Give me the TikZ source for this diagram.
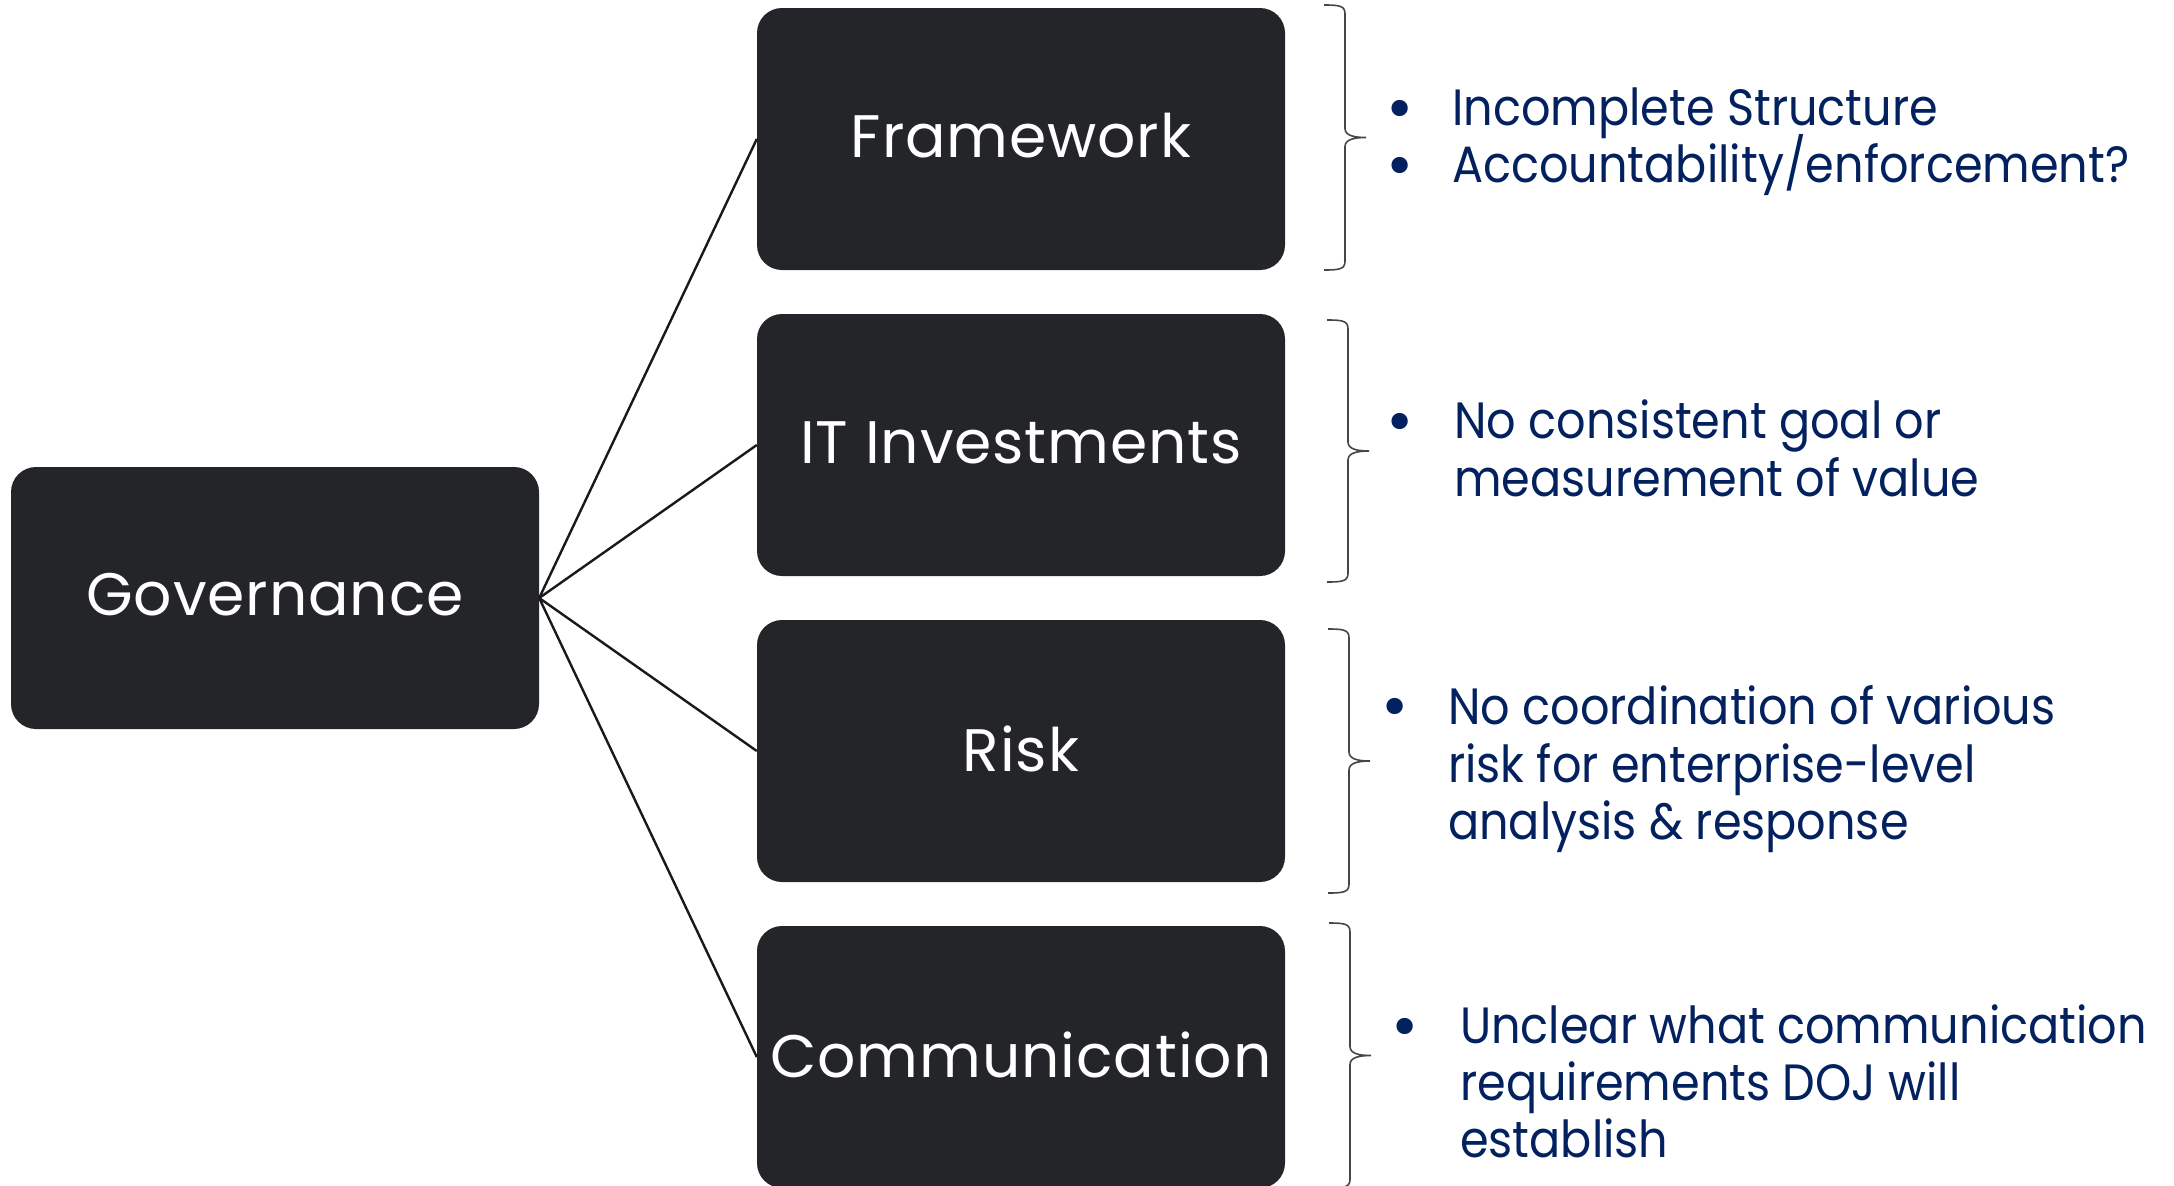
\documentclass[tikz,border=0pt]{standalone}
\usepackage{fontspec}
\setmainfont{Poppins}
\newfontfamily\itemfont{Poppins}[FakeStretch=0.905]
\newfontfamily\labelfont{Poppins}[LetterSpace=1.5]
\definecolor{boxfill}{RGB}{36,37,41}
\definecolor{navy}{RGB}{2,33,94}
\definecolor{bracecol}{RGB}{70,70,70}
\begin{document}
\begin{tikzpicture}[x=1pt,y=-1pt,
  box/.style={fill=boxfill, rounded corners=25pt, text=white, minimum width=528pt,
    minimum height=262pt, inner sep=0pt},
  boxlabel/.style={text=white, inner sep=0pt, font=\labelfont\fontsize{60}{60}\selectfont},
  conn/.style={draw=black!90, line width=2.4pt},
  bracestyle/.style={draw=bracecol, line width=1.6pt},
  item/.style={text=navy, inner sep=0pt, anchor=base west, font=\itemfont\fontsize{51}{57}\selectfont},
  bul/.style={text=navy, inner sep=0pt, anchor=center, font=\fontsize{66}{66}\selectfont}]
\useasboundingbox (0,0) rectangle (2174,1186);
\clip (0,0) rectangle (2174,1186);

% boxes
\node[box] (gov) at (275,598) {};
\node[boxlabel] (govt) at ([yshift=3pt]gov.center) {Governance};
\node[box] (fw) at (1021,139) {};
\node[boxlabel] (fwt) at ([yshift=3pt]fw.center) {Framework};
\node[box] (it) at (1021,445) {};
\node[boxlabel] (itt) at ([yshift=2pt]it.center) {IT Investments};
\node[box] (risk) at (1021,751) {};
\node[boxlabel] (riskt) at ([yshift=2pt]risk.center) {Risk};
\node[box] (comm) at (1021,1057) {};
\node[boxlabel] (commt) at ([yshift=2pt]comm.center) {Communication};

% connectors
\draw[conn] (gov.east) -- (fw.west);
\draw[conn] (gov.east) -- (it.west);
\draw[conn] (gov.east) -- (risk.west);
\draw[conn] (gov.east) -- (comm.west);

% braces
\foreach \x/\t/\m/\b in {1324/5/137.5/270, 1327/320/451/582, 1328/629/761/893, 1329/923/1055.5/1188}{
  \draw[bracestyle] (\x,\t) .. controls ({\x+16},\t) and ({\x+21},{\t+1}) .. ({\x+21},{\t+9})
    -- ({\x+21},{\m-9}) .. controls ({\x+21},{\m-2}) and ({\x+30},\m) .. ({\x+42},\m)
    .. controls ({\x+30},\m) and ({\x+21},{\m+2}) .. ({\x+21},{\m+9})
    -- ({\x+21},{\b-9}) .. controls ({\x+21},{\b-1}) and ({\x+16},\b) .. (\x,\b);
}

% Framework items
\node[bul] (b1) at (1400,115) {•};
\node[item] (f1) at (1452,125) {Incomplete Structure};
\node[bul] (b2) at (1400,172) {•};
\node[item] (f2) at (1452,182) {Accountability/enforcement?};

% IT items
\node[bul] (b3) at (1400,428) {•};
\node[item] (i1) at (1454,438) {No consistent goal or};
\node[item] (i2) at (1454,496) {measurement of value};

% Risk items
\node[bul] (b4) at (1395,713) {•};
\node[item] (r1) at (1448,724) {No coordination of various};
\node[item] (r2) at (1448,782) {risk for enterprise-level};
\node[item] (r3) at (1448,839) {analysis \& response};

% Communication items
\node[bul] (b5) at (1405,1033) {•};
\node[item] (c1) at (1460,1043) {Unclear what communication};
\node[item] (c2) at (1460,1100) {requirements DOJ will};
\node[item] (c3) at (1460,1157) {establish};
\end{tikzpicture}
\end{document}
